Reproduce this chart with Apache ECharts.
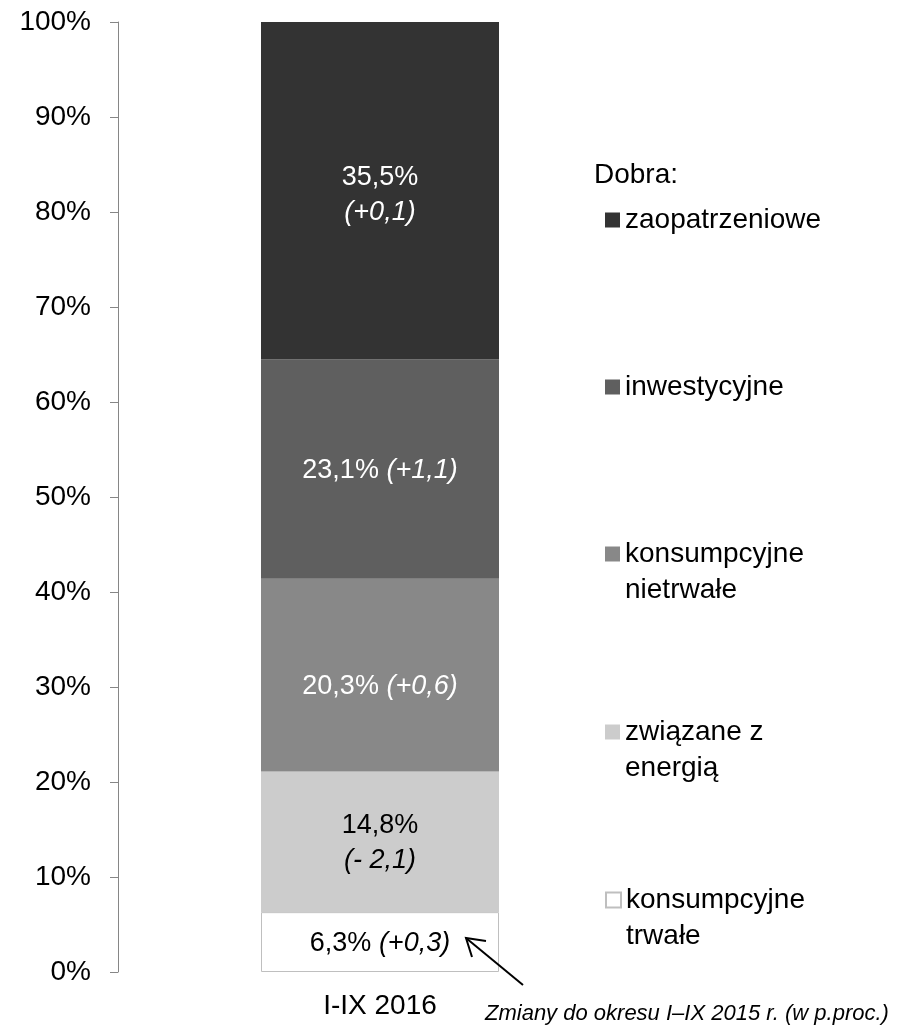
<!DOCTYPE html>
<html><head><meta charset="utf-8">
<script src="https://cdn.jsdelivr.net/npm/echarts@6/dist/echarts.min.js"></script>
<style>html,body{margin:0;padding:0;background:#fff}#c{width:897px;height:1028px}</style>
</head><body><div id="c"></div>
<script>
const categories = ['I-IX 2016'];
const seriesNames = ['konsumpcyjne trwałe', 'związane z energią', 'konsumpcyjne nietrwałe', 'inwestycyjne', 'zaopatrzeniowe'];
const shares = [6.3, 14.8, 20.3, 23.1, 35.5];
const shareLabels = ['6,3%', '14,8%', '20,3%', '23,1%', '35,5%'];
const changes = ['(+0,3)', '(- 2,1)', '(+0,6)', '(+1,1)', '(+0,1)'];
const yTicks = [0, 10, 20, 30, 40, 50, 60, 70, 80, 90, 100];
const legendTitle = 'Dobra:';
const note = 'Zmiany do okresu I\u2013IX 2015 r. (w p.proc.)';

const FONT = '"Liberation Sans", Arial, sans-serif';
const colors = ['#FFFFFF', '#CCCCCC', '#888888', '#5F5F5F', '#333333'];
const labelColors = ['#000', '#000', '#fff', '#fff', '#fff'];
const labelOffsets = [[0, 1], [0, 1], [0, 11], [0, 2], [0, 4]];
const twoLine = [false, true, false, false, true];
const legendTops = [846, 678, 500, 369, 202];
const legendText = ['\nkonsumpcyjne\ntrwałe', '\nzwiązane z\nenergią', '\nkonsumpcyjne\nnietrwałe', 'inwestycyjne', 'zaopatrzeniowe'];

const chart = echarts.init(document.getElementById('c'));
const series = seriesNames.map((n, i) => ({
  name: n, type: 'bar', stack: 'all', barWidth: 238,
  data: [shares[i]],
  itemStyle: { color: colors[i], borderColor: i === 0 ? '#BFBFBF' : colors[i], borderWidth: i === 0 ? 1 : 0 },
  label: {
    show: true, position: 'inside', offset: labelOffsets[i], color: labelColors[i], fontFamily: FONT, fontSize: 27, lineHeight: 35,
    formatter: () => shareLabels[i] + (twoLine[i] ? '\n' : ' ') + '{it|' + changes[i] + '}',
    rich: { it: { fontStyle: 'italic', color: labelColors[i], fontFamily: FONT, fontSize: 27, lineHeight: 35 } }
  }
}));

const legends = seriesNames.map((n, i) => ({
  data: [n], left: 605, top: legendTops[i], padding: 0,
  itemWidth: 15, itemHeight: 15, itemGap: 0, selectedMode: false,
  icon: 'rect',
  formatter: () => legendText[i],
  textStyle: { fontFamily: FONT, fontSize: 28, color: '#000', lineHeight: 36 }
}));

chart.setOption({
  animation: false,
  backgroundColor: '#fff',
  title: { text: legendTitle, left: 594, top: 161, padding: 0, textStyle: { fontFamily: FONT, fontSize: 28, fontWeight: 'normal', color: '#000' } },
  legend: legends,
  grid: { left: 118, right: 255, top: 22, bottom: 56, containLabel: false },
  xAxis: {
    type: 'category', data: categories,
    axisLine: { show: false }, axisTick: { show: false },
    axisLabel: { fontFamily: FONT, fontSize: 28, color: '#000', margin: 20 }
  },
  yAxis: {
    type: 'value', min: 0, max: 100, interval: 10,
    axisLine: { show: true, lineStyle: { color: '#868686', width: 1 } },
    axisTick: { show: true, length: 8, lineStyle: { color: '#868686' } },
    splitLine: { show: false },
    axisLabel: { fontFamily: FONT, fontSize: 28, color: '#000', margin: 27, formatter: v => yTicks.includes(v) ? v + '%' : '' }
  },
  series: series,
  graphic: [
    { type: 'text', left: 485, top: 1003, z: 100, style: { text: note, font: 'italic 22px ' + FONT, fill: '#000' } },
    { type: 'line', z: 100, shape: { x1: 466, y1: 938, x2: 523, y2: 985 }, style: { stroke: '#000', lineWidth: 2 } },
    { type: 'polyline', z: 100, shape: { points: [[486, 941], [466, 938], [472, 957]] }, style: { stroke: '#000', lineWidth: 2, fill: null } }
  ]
});
</script>
</body></html>
